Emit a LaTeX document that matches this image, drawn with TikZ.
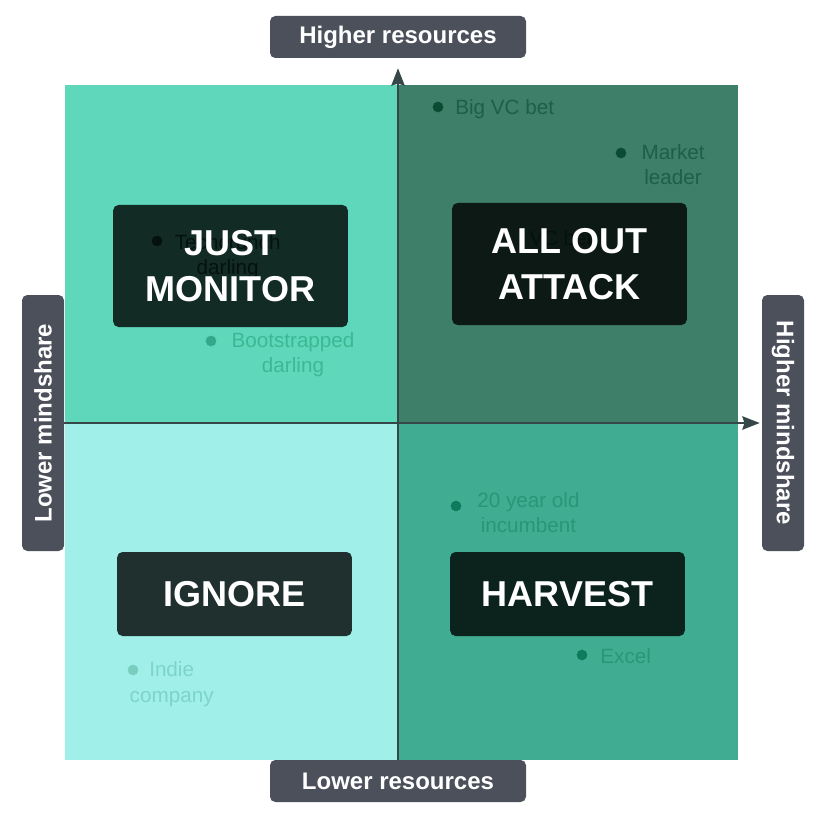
\documentclass[tikz,border=0pt]{standalone}
\usepackage{fontspec}
\setmainfont{Liberation Sans}
\usetikzlibrary{positioning, arrows.meta}

\definecolor{quadTL}{HTML}{5FD7BB}
\definecolor{quadTR}{HTML}{3E7F6A}
\definecolor{quadBL}{HTML}{A0F0E9}
\definecolor{quadBR}{HTML}{40AC91}
\definecolor{axisGray}{HTML}{4B505B}
\definecolor{axisLine}{HTML}{36474A}
\definecolor{tagTL}{HTML}{3DB895}
\definecolor{dotTL}{HTML}{34A88A}
\definecolor{tagHidden}{HTML}{1D5546}
\definecolor{tagTR}{HTML}{1F5E47}
\definecolor{dotTR}{HTML}{0B4A33}
\definecolor{tagBL}{HTML}{7DD4C7}
\definecolor{dotBL}{HTML}{78CDBF}
\definecolor{tagBR}{HTML}{2A9679}
\definecolor{dotBR}{HTML}{0F7A5C}

\begin{document}
\begin{tikzpicture}[
  x=0.75pt, y=-0.75pt,
  % Axis label boxes
  axisLabel/.style={rectangle, rounded corners=4pt, fill=axisGray, text=white, inner sep=0pt,
    minimum width=192pt, minimum height=31.5pt, font=\fontsize{18}{21}\selectfont\bfseries},
  axisArrow/.style={draw=axisLine, line width=1.5pt, -{Stealth[length=13pt, width=10pt, inset=1.5pt]}},
  % Strategy boxes
  strategy/.style={rectangle, rounded corners=4pt, fill=black, fill opacity=0.8, text opacity=1,
    text=white, align=center, inner sep=0pt, minimum width=176pt,
    font=\fontsize{27}{34}\selectfont\bfseries},
  % Company markers
  bullet/.style={circle, inner sep=0pt, minimum size=8pt},
  tag/.style={inner sep=0pt, align=center, font=\fontsize{15.5}{19}\selectfont}
  ]
  \useasboundingbox (0,0) rectangle (821,813);

  % --- Quadrants ---
  \fill[quadTL] (65,85) rectangle (398,423);
  \fill[quadTR] (398,85) rectangle (738,423);
  \fill[quadBL] (65,423) rectangle (398,760);
  \fill[quadBR] (398,423) rectangle (738,760);

  % --- Companies ---
  % Lower resources, lower mindshare
  \node[bullet, fill=tagHidden] (DTech) at (157,241) {};
  \node[tag, text=tagHidden, right=9pt of DTech, anchor=base west, yshift=-25pt] (TTech) {Techcrunch\\darling};
  \node[bullet, fill=dotTL] (DBoot) at (211,341) {};
  \node[tag, text=tagTL, right=11pt of DBoot, anchor=base west, yshift=-23.5pt] (TBoot) {Bootstrapped\\darling};

  % Higher resources, higher mindshare
  \node[bullet, fill=dotTR] (DBig) at (438,107) {};
  \node[tag, text=tagTR, right=8.6pt of DBig, anchor=base west, yshift=-6pt] (TBig) {Big VC bet};
  \node[bullet, fill=dotTR] (DMarket) at (621,153) {};
  \node[tag, text=tagTR, right=11pt of DMarket, anchor=base west, yshift=-24pt] (TMarket) {Market\\leader};
  \node[tag, text=tagHidden, anchor=base west] (TVC) at (529,245) {VC bet};

  % Lower mindshare, lower resources
  \node[bullet, fill=dotBL] (DIndie) at (133,670) {};
  \node[tag, text=tagBL, anchor=base, xshift=29pt, yshift=-24pt] (TIndie) at (DIndie.center) {Indie\\company};

  % Higher mindshare, lower resources
  \node[bullet, fill=dotBR] (DOld) at (456,506) {};
  \node[tag, text=tagBR, right=11.6pt of DOld, anchor=base west, yshift=-20pt] (TOld) {20 year old\\incumbent};
  \node[bullet, fill=dotBR] (DExcel) at (582,655) {};
  \node[tag, text=tagBR, right=9.4pt of DExcel, anchor=base west, yshift=-6pt] (TExcel) {Excel};

  % --- Axes ---
  \node[axisLabel] (HighRes) at (398,37) {Higher resources};
  \node[axisLabel] (LowRes) at (398,781) {Lower resources};
  \node[axisLabel, rotate=90] (LowMind) at (43,423) {Lower mindshare};
  \node[axisLabel, rotate=-90] (HighMind) at (783,423) {Higher mindshare};

  \draw[axisArrow, shorten >=7.5pt] (LowRes.north) -- (HighRes.south);
  \draw[axisArrow, shorten >=1.5pt] (LowMind.south) -- (HighMind.south);

  % --- Strategies ---
  \node[strategy, minimum height=91.5pt] (Monitor) at (230.5,266) {JUST\\MONITOR};
  \node[strategy, minimum height=91.5pt] (Attack) at (569.5,264) {ALL OUT\\ATTACK};
  \node[strategy, minimum height=63pt] (Ignore) at (234.5,594) {IGNORE};
  \node[strategy, minimum height=63pt] (Harvest) at (567.5,594) {HARVEST};

\end{tikzpicture}
\end{document}
